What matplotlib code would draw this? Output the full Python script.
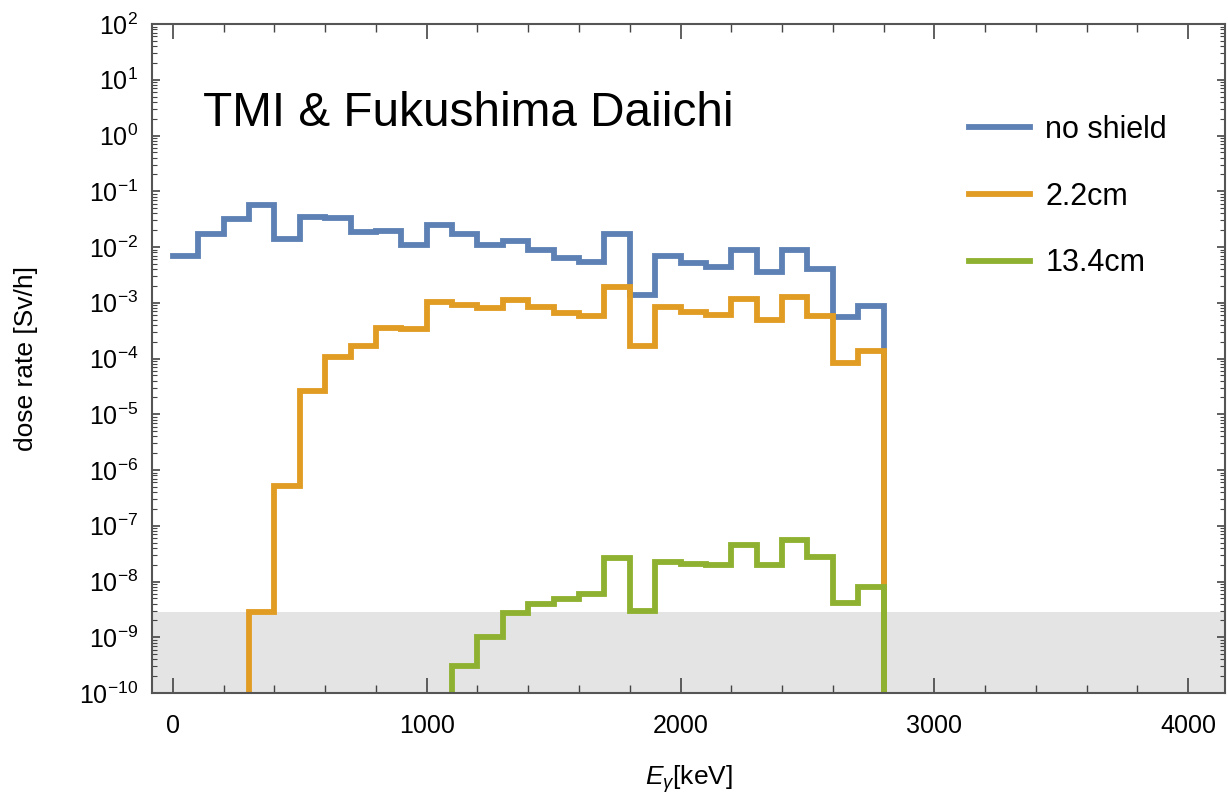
import numpy as np
import matplotlib
matplotlib.use("Agg")
import matplotlib.pyplot as plt
from matplotlib.ticker import LogLocator, MultipleLocator, NullFormatter

plt.rcParams['font.family'] = ['Liberation Sans', 'DejaVu Sans']
plt.rcParams['mathtext.fontset'] = 'custom'
plt.rcParams['mathtext.rm'] = 'Liberation Sans'
plt.rcParams['mathtext.it'] = 'Liberation Sans:italic'

# energy bins [keV], 100 keV wide
edges = np.arange(0, 2900, 100)

# dose rate per bin [Sv/h], 0 means nothing in that bin
no_shield = [7e-3, 1.7e-2, 3.2e-2, 5.6e-2, 1.4e-2, 3.4e-2, 3.3e-2, 1.85e-2, 1.9e-2, 1.1e-2,
             2.5e-2, 1.7e-2, 1.1e-2, 1.3e-2, 9e-3, 6.3e-3, 5.4e-3, 1.7e-2, 1.36e-3, 6.9e-3,
             5.1e-3, 4.4e-3, 8.7e-3, 3.5e-3, 8.7e-3, 4.0e-3, 5.5e-4, 8.7e-4]
cm2_2 = [0, 0, 0, 2.8e-9, 5.1e-7, 2.6e-5, 1.05e-4, 1.66e-4, 3.5e-4, 3.4e-4,
         1.02e-3, 9.1e-4, 8e-4, 1.1e-3, 8.3e-4, 6.5e-4, 5.7e-4, 1.9e-3, 1.66e-4, 8.3e-4,
         6.8e-4, 6e-4, 1.15e-3, 5e-4, 1.26e-3, 5.7e-4, 8.2e-5, 1.35e-4]
cm13_4 = [0, 0, 0, 0, 0, 0, 0, 0, 0, 0,
          0, 3e-10, 1e-9, 2.7e-9, 3.9e-9, 4.8e-9, 5.9e-9, 2.6e-8, 3e-9, 2.2e-8,
          2.1e-8, 1.95e-8, 4.5e-8, 2e-8, 5.5e-8, 2.8e-8, 4.2e-9, 8.1e-9]

labels = ['no shield', '2.2cm', '13.4cm']
colors = ['#5e81b5', '#e19c24', '#8fb131']
limit = 2.8e-9  # grey band upper edge

fig = plt.figure(figsize=(12.28, 7.96), dpi=100)
ax = fig.add_axes([0.1238, 0.1294, 0.8738, 0.8404])

ax.axhspan(1e-12, limit, color='#e4e4e4', lw=0, zorder=0)

tiny = 1e-20
for vals, lab, c in zip([no_shield, cm2_2, cm13_4], labels, colors):
    y = np.array(vals, dtype=float)
    y[y <= 0] = tiny
    y = np.append(y, tiny)
    ax.step(edges, y, where='post', color=c, lw=4.2, label=lab,
            solid_joinstyle='miter', zorder=2)

ax.set_yscale('log')
ax.set_ylim(1e-10, 1e2)
ax.set_xlim(-82, 4145)

ax.xaxis.set_major_locator(MultipleLocator(1000))
ax.xaxis.set_minor_locator(MultipleLocator(200))
ax.yaxis.set_major_locator(LogLocator(base=10, numticks=20))
ax.yaxis.set_minor_locator(LogLocator(base=10, subs=np.arange(2, 10), numticks=20))
ax.yaxis.set_minor_formatter(NullFormatter())

ax.tick_params(which='both', direction='in', top=True, right=True, color='#444444')
ax.tick_params(axis='x', which='major', length=11, width=1.2, labelsize=18, pad=15)
ax.tick_params(axis='x', which='minor', length=6, width=1.0)
ax.tick_params(axis='y', which='major', length=6, width=1.2, labelsize=18, pad=10)
ax.tick_params(axis='y', which='minor', length=3.5, width=0.8)
for s in ax.spines.values():
    s.set_color('#555555')
    s.set_linewidth(1.5)

ax.set_ylabel('dose rate [Sv/h]', fontsize=19)
ax.yaxis.set_label_coords(-0.106, 0.5)
ax.set_xlabel(r'$E_\gamma$[keV]', fontsize=19, labelpad=18)

ax.text(0.0475, 0.8475, 'TMI & Fukushima Daiichi', transform=ax.transAxes,
        fontsize=34.4, va='baseline', ha='left')

ax.legend(loc='upper left', bbox_to_anchor=(969 / 1228, 1 - 115 / 796),
          bbox_transform=fig.transFigure, frameon=False, fontsize=22,
          handlelength=2.0, handletextpad=0.5, labelspacing=1.2,
          borderpad=0, borderaxespad=0)

fig.savefig('out.png', dpi=100)
